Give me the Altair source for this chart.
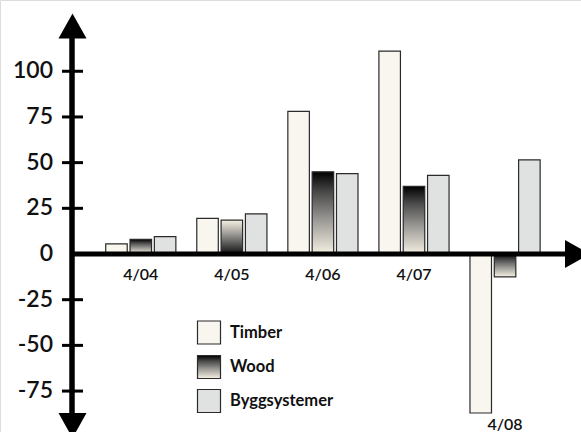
import altair as alt
import pandas as pd

# ---- data ----
dates = ["4/04", "4/05", "4/06", "4/07", "4/08"]
series = ["Timber", "Wood", "Byggsystemer"]
timber = [5.5, 19.5, 78, 111, -87]
wood = [8, 18.5, 45, 37, -12.5]
bygg = [9.5, 22, 44, 43, 51.5]
y_ticks = [100, 75, 50, 25, 0, -25, -50, -75]

rows = []
for i, d in enumerate(dates):
    rows.append({"date": d, "series": "Timber", "value": timber[i]})
    rows.append({"date": d, "series": "Wood", "value": wood[i]})
    rows.append({"date": d, "series": "Byggsystemer", "value": bygg[i]})
df = pd.DataFrame(rows)
tick_df = pd.DataFrame({"v": y_ticks})

FONT = "Lato"
YDOM = [-97.4, 139.0]
yscale = alt.Scale(domain=YDOM, nice=False, zero=False)
# band scale: step ~91.2 px, first band starting ~95 px from the left
xscale = alt.Scale(paddingInner=0, paddingOuter=0.69, align=0.758)
xoff_scale = alt.Scale(domain=series, paddingInner=0.115, paddingOuter=0.43)

wood_grad = alt.Gradient(gradient="linear", x1=0, y1=0, x2=0, y2=1, stops=[
    alt.GradientStop(offset=0, color="#000000"),
    alt.GradientStop(offset=0.25, color="#4a4a4a"),
    alt.GradientStop(offset=0.6, color="#9e9c98"),
    alt.GradientStop(offset=1, color="#f6f0e2")])
wood_grad_rev = alt.Gradient(gradient="linear", x1=0, y1=0, x2=0, y2=1, stops=[
    alt.GradientStop(offset=0, color="#f6f0e2"),
    alt.GradientStop(offset=0.4, color="#9e9c98"),
    alt.GradientStop(offset=0.75, color="#4a4a4a"),
    alt.GradientStop(offset=1, color="#111111")])
TIMBER_FILL = "#f9f6ef"
BYGG_FILL = "#e0e2e2"
STROKE = "#2a2a2a"

enc = dict(
    x=alt.X("date:N", sort=dates, scale=xscale, axis=None),
    xOffset=alt.XOffset("series:N", sort=series, scale=xoff_scale),
    y=alt.Y("value:Q", scale=yscale, axis=None),
    y2=alt.Y2("zero:Q"),
)

base = alt.Chart(df).transform_calculate(zero="0")

bars_plain = base.transform_filter("datum.series !== 'Wood'").mark_bar(
    stroke=STROKE, strokeWidth=1.2).encode(
    fill=alt.condition("datum.series === 'Timber'", alt.value(TIMBER_FILL), alt.value(BYGG_FILL)),
    **enc)
bars_wood = base.transform_filter(
    "datum.series === 'Wood' && datum.date !== '4/05'").mark_bar(
    stroke=STROKE, strokeWidth=1.2, fill=wood_grad).encode(**enc)
bars_wood_rev = base.transform_filter(
    "datum.series === 'Wood' && datum.date === '4/05'").mark_bar(
    stroke=STROKE, strokeWidth=1.2, fill=wood_grad_rev).encode(**enc)

# category labels: under the zero line, or under the lowest bar if negative
xlabels = base.transform_aggregate(
    mn="min(value)", groupby=["date"]
).transform_calculate(
    ly="datum.mn < 0 ? datum.mn - 6.6 : -11.5"
).mark_text(font=FONT, fontSize=16, fontWeight=600, color="#111").encode(
    x=alt.X("date:N", sort=dates, scale=xscale, axis=None),
    y=alt.Y("ly:Q", scale=yscale, axis=None),
    text="date:N",
)

# hand-drawn axes
tbase = alt.Chart(tick_df).transform_calculate(zero="0", lab="'' + datum.v")
one = tbase.transform_filter("datum.v === 0")
x_axis = one.mark_rule(color="black", strokeWidth=5).encode(
    x=alt.value(70), x2=alt.value(566),
    y=alt.Y("zero:Q", scale=yscale, axis=None))
y_axis = one.mark_rule(color="black", strokeWidth=5.5).encode(
    x=alt.value(72), y=alt.value(36), y2=alt.value(415))
ticks = tbase.transform_filter("datum.v !== 0").mark_rule(
    color="black", strokeWidth=3).encode(
    x=alt.value(62), x2=alt.value(83),
    y=alt.Y("v:Q", scale=yscale, axis=None))
tick_labels = tbase.mark_text(
    font=FONT, fontSize=23, fontWeight=600, align="right", baseline="middle",
    color="#111").encode(
    x=alt.value(53), y=alt.Y("v:Q", scale=yscale, axis=None), text="lab:N")

up_arrow = one.mark_point(
    shape="M-1,0L1,0L0,-1.79Z", size=784, filled=True, color="black", opacity=1).encode(
    x=alt.value(72.5), y=alt.value(38.5))
down_arrow = one.mark_point(
    shape="M-1,0L1,0L0,1.79Z", size=784, filled=True, color="black", opacity=1).encode(
    x=alt.value(72.5), y=alt.value(413))
right_arrow = one.mark_point(
    shape="M0,-1L0,1L1.79,0Z", size=784, filled=True, color="black", opacity=1).encode(
    x=alt.value(565), y=alt.Y("zero:Q", scale=yscale, axis=None))

# legend
leg_rows = [332.5, 367, 401]
leg_fills = [TIMBER_FILL, wood_grad, BYGG_FILL]
legend_layers = []
for name, yy, fl in zip(series, leg_rows, leg_fills):
    ld = alt.Chart(pd.DataFrame({"series": [name]}))
    legend_layers.append(ld.mark_rect(fill=fl, stroke=STROKE, strokeWidth=1.2).encode(
        x=alt.value(197.5), x2=alt.value(220.5),
        y=alt.value(yy - 11.5), y2=alt.value(yy + 11.5)))
    legend_layers.append(ld.mark_text(
        font=FONT, fontSize=16.5, fontWeight="bold", align="left", baseline="middle",
        color="#111").encode(x=alt.value(230), y=alt.value(yy), text="series:N"))

chart = alt.layer(bars_plain, bars_wood, bars_wood_rev, x_axis, y_axis, ticks,
                  tick_labels, xlabels, up_arrow, down_arrow, right_arrow,
                  *legend_layers).properties(
    width=581, height=432, padding=0,
    autosize=alt.AutoSizeParams(type="none"),
).configure_view(stroke=None).configure(background="white")

chart.save("out.html", embed_options={"renderer": "svg", "actions": False})
